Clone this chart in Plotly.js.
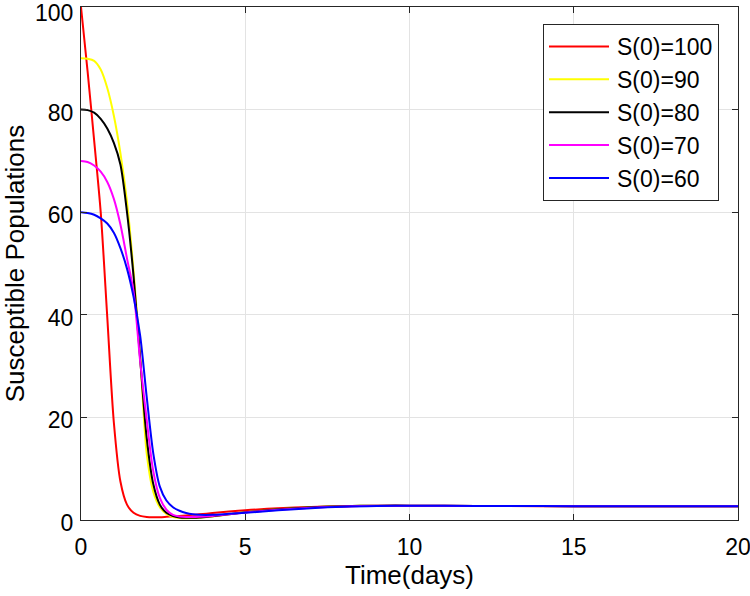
<!DOCTYPE html>
<html>
<head>
<meta charset="utf-8">
<script src="https://cdn.plot.ly/plotly-3.0.1.min.js"></script>
<style>html,body{margin:0;padding:0;background:#fff;}#chart{width:750px;height:596px;}</style>
</head>
<body>
<div id="chart"></div>
<script>
const time = [0,0.2,0.4,0.6,0.8,1.0,1.2,1.4,1.6,1.8,2.0,2.2,2.4,2.6,2.8,3.0,3.2,3.4,3.6,4,4.5,5,6,7,8,9,10,12,14,16,18,20];
const s100 = [100,87.5,74,60,39.5,19,7.5,3.0,1.4,0.8,0.6,0.55,0.55,0.62,0.7,0.8,0.9,1.0,1.1,1.35,1.65,1.9,2.3,2.55,2.7,2.75,2.75,2.72,2.7,2.7,2.7,2.7];
const s90  = [90,89.9,89.5,87.8,84.2,78.8,71.5,62,48.5,32,13,5.5,2.5,1.2,0.6,0.4,0.35,0.4,0.45,0.7,1.1,1.5,2.1,2.5,2.7,2.8,2.8,2.74,2.71,2.7,2.7,2.7];
const s80  = [80,79.9,79.4,78.2,76.3,73.5,69.3,60,47.5,31.5,16,7,3,1.4,0.75,0.5,0.45,0.45,0.5,0.75,1.1,1.5,2.1,2.5,2.7,2.8,2.8,2.74,2.71,2.7,2.7,2.7];
const s70  = [70,69.8,69.1,67.9,65.9,62.6,57.6,51,44.5,31,19.5,9.5,4.3,2.0,1.0,0.7,0.6,0.6,0.65,0.8,1.1,1.45,2.0,2.4,2.65,2.78,2.8,2.74,2.71,2.7,2.7,2.7];
const s60  = [60,59.85,59.5,58.8,57.8,56,53,49,43.5,36,24,13,6.5,3.8,2.5,1.8,1.35,1.1,1.0,1.0,1.2,1.4,1.9,2.3,2.6,2.75,2.8,2.74,2.71,2.7,2.7,2.7];
const seriesNames = ['S(0)=100','S(0)=90','S(0)=80','S(0)=70','S(0)=60'];
const seriesColors = ['#ff0000','#ffff00','#000000','#ff00ff','#0000ff'];
const seriesData = [s100,s90,s80,s70,s60];
const xTicks = [0,5,10,15,20];
const yTicks = [0,20,40,60,80,100];

const FONT = 'Liberation Sans, Arial, Helvetica, sans-serif';

const traces = seriesData.map((ys,i)=>({
  x: time, y: ys, type:'scatter', mode:'lines', name: seriesNames[i],
  legendgroup: 'g'+i,
  line:{color: seriesColors[i], width:2, shape:'spline', smoothing:0.8}
}));

const axisCommon = {
  showline:true, linecolor:'#262626', linewidth:1, mirror:'ticks',
  ticks:'inside', ticklen:6, tickcolor:'#262626',
  showgrid:true, gridcolor:'#e3e3e3', gridwidth:1, zeroline:false,
  ticklabeloverflow:'allow',
  tickfont:{family:FONT, size:23, color:'#000'}
};

const layout = {
  width:750, height:596,
  margin:{l:81, r:12, t:7, b:76},
  paper_bgcolor:'#fff', plot_bgcolor:'#fff',
  font:{family:FONT, color:'#000'},
  xaxis: Object.assign({}, axisCommon, {
    range:[0,20], tickvals:xTicks, ticktext:xTicks.map(String),
    ticklabelstandoff:6,
    title:{text:'Time(days)', font:{size:26, family:FONT}, standoff:6}
  }),
  yaxis: Object.assign({}, axisCommon, {
    range:[0,100], tickvals:yTicks, ticktext:yTicks.map(String),
    ticklabelstandoff:2,
    title:{text:'Susceptible Populations', font:{size:26, family:FONT}, standoff:12}
  }),
  legend:{
    x:0.7032, y:0.967, xanchor:'left', yanchor:'top',
    bgcolor:'#fff', bordercolor:'#262626', borderwidth:1,
    font:{size:23, family:FONT, color:'#000'},
    traceorder:'grouped', tracegroupgap:0, itemwidth:63
  },
  showlegend:true
};

Plotly.newPlot('chart', traces, layout, {displayModeBar:false, staticPlot:true}).then(()=>{
  document.querySelectorAll('.legendlines path').forEach(p=>p.setAttribute('d','M5,0h60'));
  document.querySelectorAll('.ytick text').forEach(t=>{
    const tr = t.getAttribute('transform') || '';
    const dy = (t.textContent === '100') ? 6 : 3;
    t.setAttribute('transform', tr + ' translate(0,' + dy + ')');
  });
});
</script>
</body>
</html>
